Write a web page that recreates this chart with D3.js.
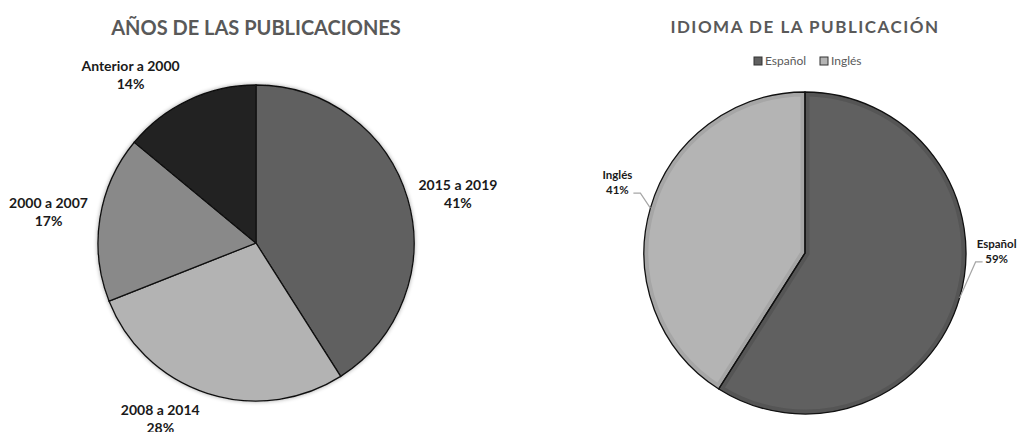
<!DOCTYPE html>
<html>
<head>
<meta charset="utf-8">
<title>Publicaciones</title>
<script src="https://d3js.org/d3.v7.min.js"></script>
<style>
  body { margin: 0; background: #fff; }
  text { font-family: Lato, "Open Sans", sans-serif; }
</style>
</head>
<body>
<svg width="1021" height="432"></svg>
<script>
// datos: años de las publicaciones
const yearCats = ["2015 a 2019", "2008 a 2014", "2000 a 2007", "Anterior a 2000"];
const yearVals = [41, 28, 17, 14];
const yearColors = ["#606060", "#b3b3b3", "#898989", "#232323"];

// datos: idioma
const langCats = ["Español", "Inglés"];
const langVals = [59, 41];
const langColors = ["#606060", "#b4b4b4"];
const langInner = ["#555555", "#a6a6a6"];

const svg = d3.select("svg");

// sombra suave
const defs = svg.append("defs");
const sh = defs.append("filter").attr("id", "shadow")
  .attr("x", "-10%").attr("y", "-10%").attr("width", "120%").attr("height", "120%");
sh.append("feGaussianBlur").attr("in", "SourceAlpha").attr("stdDeviation", 2);
sh.append("feComponentTransfer").append("feFuncA").attr("type", "linear").attr("slope", 0.35);
const m = sh.append("feMerge");
m.append("feMergeNode");
m.append("feMergeNode").attr("in", "SourceGraphic");

// ---------- gráfico izquierdo ----------
const L = { cx: 256, cy: 243, r: 158 };
const pie = d3.pie().sort(null).value(d => d);
const arcL = d3.arc().innerRadius(0).outerRadius(L.r);
const labArcL = d3.arc().innerRadius(L.r + 45).outerRadius(L.r + 45);
const nudgeL = [[7, 8], [-33, -17], [-7, 1], [-39, 16]];

svg.append("text")
  .attr("x", L.cx).attr("y", 35)
  .attr("text-anchor", "middle")
  .attr("font-size", 20).attr("font-weight", 700)
  .attr("fill", "#595959")
  .text("AÑOS DE LAS PUBLICACIONES");

const gL = svg.append("g").attr("transform", `translate(${L.cx},${L.cy})`);
const arcsL = pie(yearVals);
gL.append("g").attr("filter", "url(#shadow)")
  .selectAll("path").data(arcsL).join("path")
  .attr("d", arcL)
  .attr("fill", (d, i) => yearColors[i])
  .attr("stroke", "#111").attr("stroke-width", 1.3);

gL.selectAll("text.lab").data(arcsL).join("text")
  .attr("class", "lab")
  .attr("text-anchor", "middle")
  .attr("font-size", 14).attr("font-weight", 700).attr("fill", "#1a1a1a")
  .each(function (d, i) {
    const c = labArcL.centroid(d);
    const x = c[0] + nudgeL[i][0], y = c[1] + nudgeL[i][1];
    const t = d3.select(this);
    t.append("tspan").attr("x", x).attr("y", y - 4).text(yearCats[i]);
    t.append("tspan").attr("x", x).attr("y", y + 14).text(yearVals[i] + "%");
  });

// ---------- gráfico derecho ----------
const R = { cx: 805, cy: 253, r: 161 };
const arcR = d3.arc().innerRadius(0).outerRadius(R.r);

svg.append("text")
  .attr("x", R.cx).attr("y", 33)
  .attr("text-anchor", "middle")
  .attr("font-size", 17).attr("font-weight", 700)
  .attr("letter-spacing", 1.5)
  .attr("fill", "#595959")
  .text("IDIOMA DE LA PUBLICACIÓN");

// leyenda
const legX = [754, 820];
const leg = svg.append("g");
langCats.forEach((c, i) => {
  leg.append("rect")
    .attr("x", legX[i]).attr("y", 57).attr("width", 8).attr("height", 8)
    .attr("fill", langColors[i]).attr("stroke", "#333").attr("stroke-width", 1);
  leg.append("text")
    .attr("x", legX[i] + 11).attr("y", 65)
    .attr("font-size", 12).attr("fill", "#595959")
    .text(c);
});

const gR = svg.append("g").attr("transform", `translate(${R.cx},${R.cy})`);
const arcsR = pie(langVals);
arcsR.forEach((d, i) => {
  defs.append("clipPath").attr("id", "clipR" + i)
    .append("path").attr("d", arcR(d));
});
gR.selectAll("path.slice").data(arcsR).join("path")
  .attr("class", "slice")
  .attr("d", arcR)
  .attr("fill", (d, i) => langColors[i])
  .attr("clip-path", (d, i) => `url(#clipR${i})`)
  .attr("stroke", (d, i) => langInner[i]).attr("stroke-width", 9);
gR.selectAll("path.edge").data(arcsR).join("path")
  .attr("class", "edge")
  .attr("d", arcR)
  .attr("fill", "none")
  .attr("stroke", "#111").attr("stroke-width", 1.3);

// etiquetas con líneas guía (Español, Inglés)
const labR = [
  { dx: 16, dy: -36, hx: 7, lx: 21 },
  { dx: -10, dy: -15, hx: -7, lx: -23 }
];
const edgeArc = d3.arc().innerRadius(R.r).outerRadius(R.r);
arcsR.forEach((d, i) => {
  const p = edgeArc.centroid(d);
  const o = labR[i];
  const bx = p[0] + o.dx, by = p[1] + o.dy;
  gR.append("polyline")
    .attr("points", [[p[0], p[1]], [bx, by], [bx + o.hx, by]].map(q => q.join(",")).join(" "))
    .attr("fill", "none").attr("stroke", "#a6a6a6").attr("stroke-width", 1.2);
  const tx = bx + o.lx;
  const t = gR.append("text")
    .attr("text-anchor", "middle")
    .attr("font-size", 11.5).attr("font-weight", 700).attr("fill", "#1a1a1a");
  t.append("tspan").attr("x", tx).attr("y", by - 14).text(langCats[i]);
  t.append("tspan").attr("x", tx).attr("y", by + 1).text(langVals[i] + "%");
});
</script>
</body>
</html>
